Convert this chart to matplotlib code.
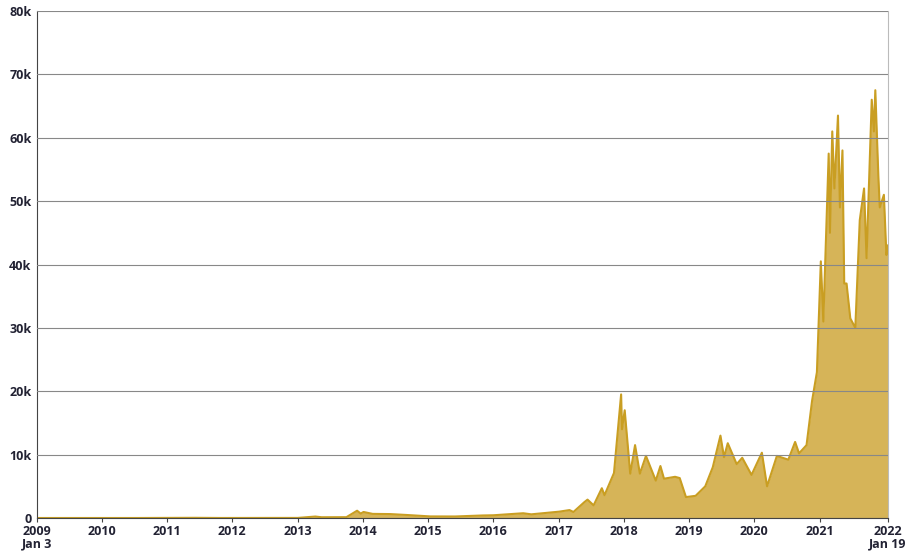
import matplotlib
matplotlib.use("Agg")
import matplotlib.pyplot as plt
import matplotlib.dates as mdates
import pandas as pd

plt.rcParams['font.family'] = ['Open Sans', 'DejaVu Sans']

dates = ["2009-01-03","2010-07-15","2011-06-08","2011-11-01","2012-08-15","2013-01-01","2013-04-10","2013-05-15","2013-10-01",
 "2013-11-30","2013-12-20","2014-01-05","2014-02-25","2014-06-03","2014-09-01","2015-01-14","2015-06-01","2015-11-04","2016-01-01",
 "2016-06-17","2016-08-01","2017-01-04","2017-03-03","2017-03-25","2017-05-25","2017-06-12","2017-07-16","2017-08-31","2017-09-15",
 "2017-11-07","2017-12-17","2017-12-22","2018-01-06","2018-02-06","2018-03-05","2018-04-01","2018-05-05","2018-06-29","2018-07-25",
 "2018-08-14","2018-10-15","2018-11-10","2018-12-15","2019-02-07","2019-04-02","2019-05-14","2019-06-26","2019-07-16","2019-08-06",
 "2019-09-25","2019-10-26","2019-12-17","2020-02-13","2020-03-13","2020-05-07","2020-07-10","2020-08-17","2020-09-08","2020-10-20",
 "2020-11-20","2020-12-17","2021-01-08","2021-01-22","2021-02-21","2021-02-28","2021-03-13","2021-03-25","2021-04-14","2021-04-25",
 "2021-05-09","2021-05-19","2021-06-01","2021-06-22","2021-07-20","2021-08-14","2021-09-07","2021-09-21","2021-10-20","2021-11-01",
 "2021-11-09","2021-11-26","2021-12-04","2021-12-27","2022-01-10","2022-01-19"]
prices = [0,0.05,30,3,12,13,230,120,130,
 1150,700,950,650,620,480,250,240,400,430,
 750,580,1000,1250,950,2500,2900,2000,4700,3600,
 7100,19500,14000,17000,7000,11500,7000,9800,5900,8200,
 6200,6500,6300,3300,3500,5000,8000,13000,9600,11800,
 8500,9500,6800,10300,5000,9800,9200,12000,10200,11500,
 18500,23000,40500,31000,57500,45000,61000,52000,63500,49000,
 58000,37000,37000,31500,30000,47000,52000,41000,66000,61000,
 67500,54000,49000,51000,41500,43000]
yticks = [0,10000,20000,30000,40000,50000,60000,70000,80000]
ylabels = ["0","10k","20k","30k","40k","50k","60k","70k","80k"]
years = list(range(2009, 2023))

d = pd.to_datetime(dates)
fig = plt.figure(figsize=(9.15,5.59), dpi=100)
ax = fig.add_axes([37/915, 41/559, 851/915, 507/559])
ax.fill_between(d, prices, 0, color="#d6b458", lw=0)
ax.plot(d, prices, color="#c99e22", lw=1.5)
ax.set_xlim(pd.Timestamp("2009-01-03"), pd.Timestamp("2022-01-19"))
ax.set_ylim(0, 80000)
ax.set_yticks(yticks)
ax.set_yticklabels(ylabels, fontsize=9, fontweight="bold", color="#222233")
ax.yaxis.grid(True, color="#888888", lw=0.8)
ax.set_axisbelow(False)
ticks = [pd.Timestamp("2009-01-03")] + [pd.Timestamp(f"{y}-01-01") for y in years[1:-1]] + [pd.Timestamp("2022-01-19")]
labs = ["2009\nJan 3"] + [str(y) for y in years[1:-1]] + ["2022\nJan 19"]
ax.set_xticks(ticks)
ax.set_xticklabels(labs, fontsize=9, fontweight="bold", color="#222233", linespacing=0.9, va="top")
ax.tick_params(axis='y', length=0, pad=4)
ax.tick_params(axis='x', length=3, color="#444444", pad=2)
for s in ["top"]:
    ax.spines[s].set_visible(False)
ax.spines["right"].set_color("#bbbbbb")
ax.spines["left"].set_color("#444444")
ax.spines["bottom"].set_color("#444444")
fig.savefig("out.png", dpi=100)
